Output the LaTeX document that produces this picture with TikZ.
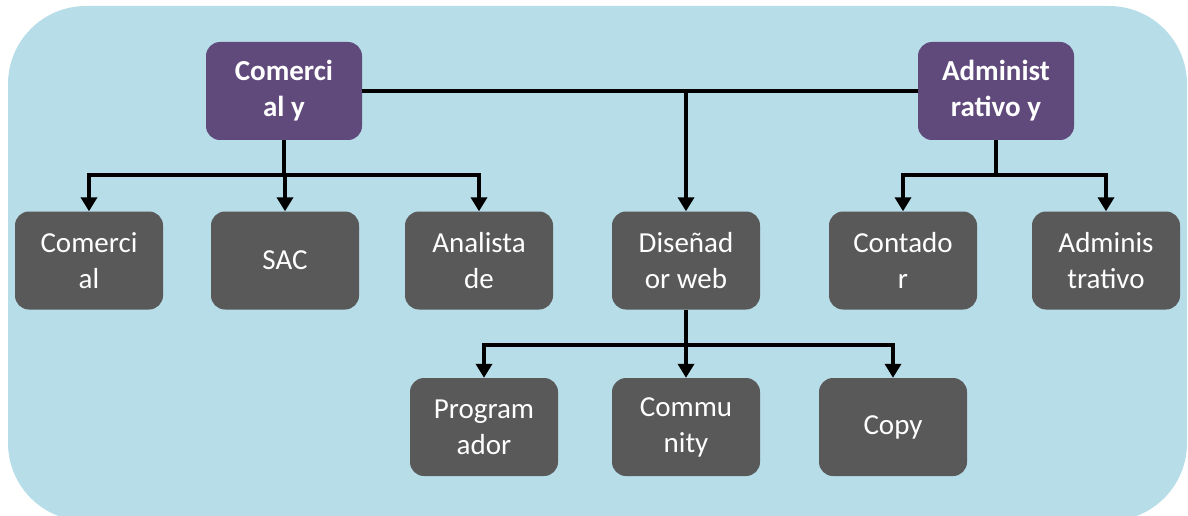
\documentclass[tikz,border=0pt]{standalone}
\usepackage{fontspec}
\setmainfont{Carlito}
\usetikzlibrary{arrows.meta}
\definecolor{bg}{HTML}{B7DDE8}
\definecolor{purp}{HTML}{604A7B}
\definecolor{grey}{HTML}{595959}
\begin{document}
\begin{tikzpicture}[x=1pt,y=-1pt,
  box/.style={rounded corners=14pt, minimum width=148pt, minimum height=98pt, text=white, align=center, font=\fontsize{29}{36}\selectfont, inner sep=0pt},
  topbox/.style={box, fill=purp, font=\fontsize{29}{36}\selectfont\bfseries, minimum width=156pt},
  subbox/.style={box, fill=grey},
  conn/.style={line width=4pt},
  arr/.style={conn, -{Triangle[width=16pt,length=14pt]}}]
\useasboundingbox (0,0) rectangle (1188,516);
\fill[bg, rounded corners=78pt] (8,6) rectangle (1187,521);

\node[topbox] (c1) at (284,91) {Comerci\\al y};
\node[topbox] (a1) at (996,91) {Administ\\rativo y};

\node[subbox] (com) at (89,260.5) {Comerci\\al};
\node[subbox] (sac) at (285,260.5) {SAC};
\node[subbox] (ana) at (479,260.5) {Analista\\de};
\node[subbox] (dis) at (686,260.5) {Diseñad\\or web};
\node[subbox] (con) at (903,260.5) {Contado\\r};
\node[subbox] (adm) at (1106,260.5) {Adminis\\trativo};

\node[subbox] (pro) at (484,427) {Program\\ador};
\node[subbox] (cmm) at (686,427) {Commu\\nity};
\node[subbox] (cop) at (893,427) {Copy};

\draw[conn] (c1.east) -- (a1.west);
\draw[arr] (c1.east -| dis.north) -- (dis.north);

\coordinate (b1) at (284,175);
\draw[conn] (c1.south) -- (b1);
\draw[arr] (b1) -| (com.north);
\draw[arr] (b1) -| (sac.north);
\draw[arr] (b1) -| (ana.north);

\coordinate (b2) at (996,175);
\draw[conn] (a1.south) -- (b2);
\draw[arr] (b2) -| (con.north);
\draw[arr] (b2) -| (adm.north);

\coordinate (b3) at (686,345);
\draw[conn] (dis.south) -- (b3);
\draw[arr] (b3) -| (pro.north);
\draw[arr] (b3) -- (cmm.north);
\draw[arr] (b3) -| (cop.north);
\end{tikzpicture}
\end{document}
